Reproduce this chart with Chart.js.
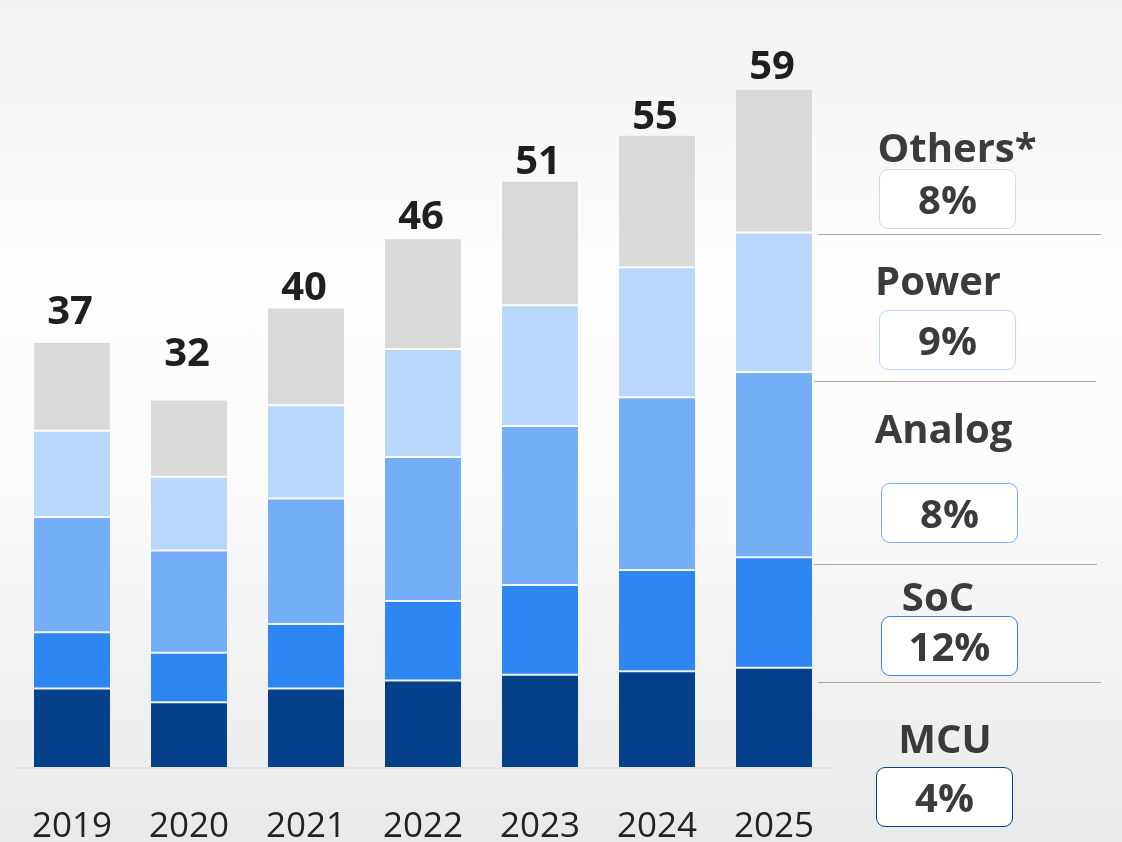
<!DOCTYPE html>
<html lang="en">
  <head>
    <meta charset="UTF-8" />
    <title>Segments by year</title>
    <script src="https://cdn.jsdelivr.net/npm/chart.js"></script>
    <style>
      html, body {
        margin: 0;
        padding: 0;
      }
      body {
        width: 1122px;
        height: 842px;
        overflow: hidden;
        font-family: "Open Sans", sans-serif;
        background: linear-gradient(to bottom, #f1f1f1 0%, #fdfdfd 30%, #fcfcfc 55%, #e9e9e9 100%);
        position: relative;
      }
      #wrap {
        position: absolute;
        left: 0;
        top: 0;
        width: 1122px;
        height: 842px;
      }
      .seg-name {
        position: absolute;
        width: 220px;
        text-align: center;
        font-size: 40px;
        line-height: 40px;
        font-weight: 700;
        color: #3b3b3b;
      }
      .seg-box {
        position: absolute;
        box-sizing: border-box;
        width: 137px;
        height: 60px;
        border: 1.5px solid #ccc;
        border-radius: 9px;
        background: #fff;
        text-align: center;
        font-size: 40px;
        line-height: 57px;
        font-weight: 700;
        color: #3b3b3b;
      }
      .sep {
        position: absolute;
        height: 1px;
        background: #a8a8a8;
      }
    </style>
  </head>
  <body>
    <div id="wrap">
      <canvas id="chart" width="1122" height="842"></canvas>
      <div id="side"></div>
    </div>

    <script>
      const years = ["2019", "2020", "2021", "2022", "2023", "2024", "2025"];
      const totals = [37, 32, 40, 46, 51, 55, 59];
      const mcu = [6.9, 5.7, 6.9, 7.6, 8.1, 8.4, 8.7];
      const soc = [4.9, 4.3, 5.6, 6.9, 7.8, 8.8, 9.6];
      const analog = [10.0, 8.9, 10.9, 12.5, 13.8, 15.0, 16.1];
      const power = [7.5, 6.4, 8.1, 9.4, 10.5, 11.3, 12.1];
      const others = [7.7, 6.7, 8.5, 9.6, 10.8, 11.5, 12.5];
      const segNames = ["Others*", "Power", "Analog", "SoC", "MCU"];
      const segShares = ["8%", "9%", "8%", "12%", "4%"];

      const colors = {
        mcu: "#05408a",
        soc: "#2d86f2",
        analog: "#73aef6",
        power: "#b9d7fb",
        others: "#d9d9d9",
      };

      // gap between each total label and its bar top (not the same in the original)
      const labelGap = [18, 34, 7, 9, 7, 6, 10];

      const totalsPlugin = {
        id: "totals",
        afterDatasetsDraw(chart) {
          const ctx = chart.ctx;
          const top = chart.getDatasetMeta(chart.data.datasets.length - 1);
          ctx.save();
          ctx.font = "700 40px 'Open Sans', sans-serif";
          ctx.fillStyle = "#1f1f1f";
          ctx.textAlign = "center";
          ctx.textBaseline = "alphabetic";
          top.data.forEach((bar, i) => {
            ctx.fillText(String(totals[i]), bar.x - 2, bar.y - labelGap[i]);
          });
          ctx.restore();
        },
      };

      function ds(label, data, color) {
        return {
          label: label,
          data: data,
          backgroundColor: color,
          borderColor: "rgba(255,255,255,0.18)",
          borderWidth: 1,
          borderSkipped: false,
          barPercentage: 0.667,
          categoryPercentage: 1,
        };
      }

      new Chart(document.getElementById("chart").getContext("2d"), {
        type: "bar",
        data: {
          labels: years,
          datasets: [
            ds("MCU", mcu, colors.mcu),
            ds("SoC", soc, colors.soc),
            ds("Analog", analog, colors.analog),
            ds("Power", power, colors.power),
            ds("Others*", others, colors.others),
          ],
        },
        options: {
          responsive: false,
          animation: false,
          devicePixelRatio: 1,
          layout: {
            padding: { left: 13.5, right: 289.5, top: 0, bottom: 0 },
          },
          plugins: {
            legend: { display: false },
            tooltip: { enabled: false },
          },
          scales: {
            x: {
              stacked: true,
              // invisible tick marks push the year labels down without
              // widening the axis side padding
              grid: { display: false, drawTicks: true, tickLength: 38 },
              border: { display: true, color: "#e2e2e2", width: 2 },
              ticks: {
                color: "#222",
                padding: 0,
                font: { family: "'Open Sans', sans-serif", size: 35 },
              },
              afterFit(scale) {
                scale.height = 74;
              },
            },
            y: {
              stacked: true,
              display: false,
              min: 0,
              max: 66.7,
            },
          },
        },
        plugins: [totalsPlugin],
      });

      // right-hand segment legend
      const side = document.getElementById("side");
      const nameSpots = [
        { x: 957, baseline: 162 },
        { x: 938, baseline: 295 },
        { x: 943.5, baseline: 443 },
        { x: 938, baseline: 611 },
        { x: 945, baseline: 753 },
      ];
      const boxSpots = [
        { x: 879, y: 169, border: colors.others },
        { x: 879, y: 310, border: colors.power },
        { x: 881, y: 483, border: colors.analog },
        { x: 881, y: 616, border: colors.soc },
        { x: 876, y: 767, border: colors.mcu },
      ];
      const seps = [
        { y: 234, x1: 818, x2: 1101 },
        { y: 381, x1: 814, x2: 1096 },
        { y: 564, x1: 814, x2: 1097 },
        { y: 682, x1: 818, x2: 1101 },
      ];

      segNames.forEach((name, i) => {
        const n = document.createElement("div");
        n.className = "seg-name";
        n.textContent = name;
        n.style.left = nameSpots[i].x - 110 + "px";
        n.style.top = nameSpots[i].baseline - 35.5 + "px";
        side.appendChild(n);

        const b = document.createElement("div");
        b.className = "seg-box";
        b.textContent = segShares[i];
        b.style.left = boxSpots[i].x + "px";
        b.style.top = boxSpots[i].y + "px";
        b.style.borderColor = boxSpots[i].border;
        side.appendChild(b);
      });

      seps.forEach((s) => {
        const d = document.createElement("div");
        d.className = "sep";
        d.style.left = s.x1 + "px";
        d.style.top = s.y + "px";
        d.style.width = s.x2 - s.x1 + "px";
        side.appendChild(d);
      });
    </script>
  </body>
</html>
